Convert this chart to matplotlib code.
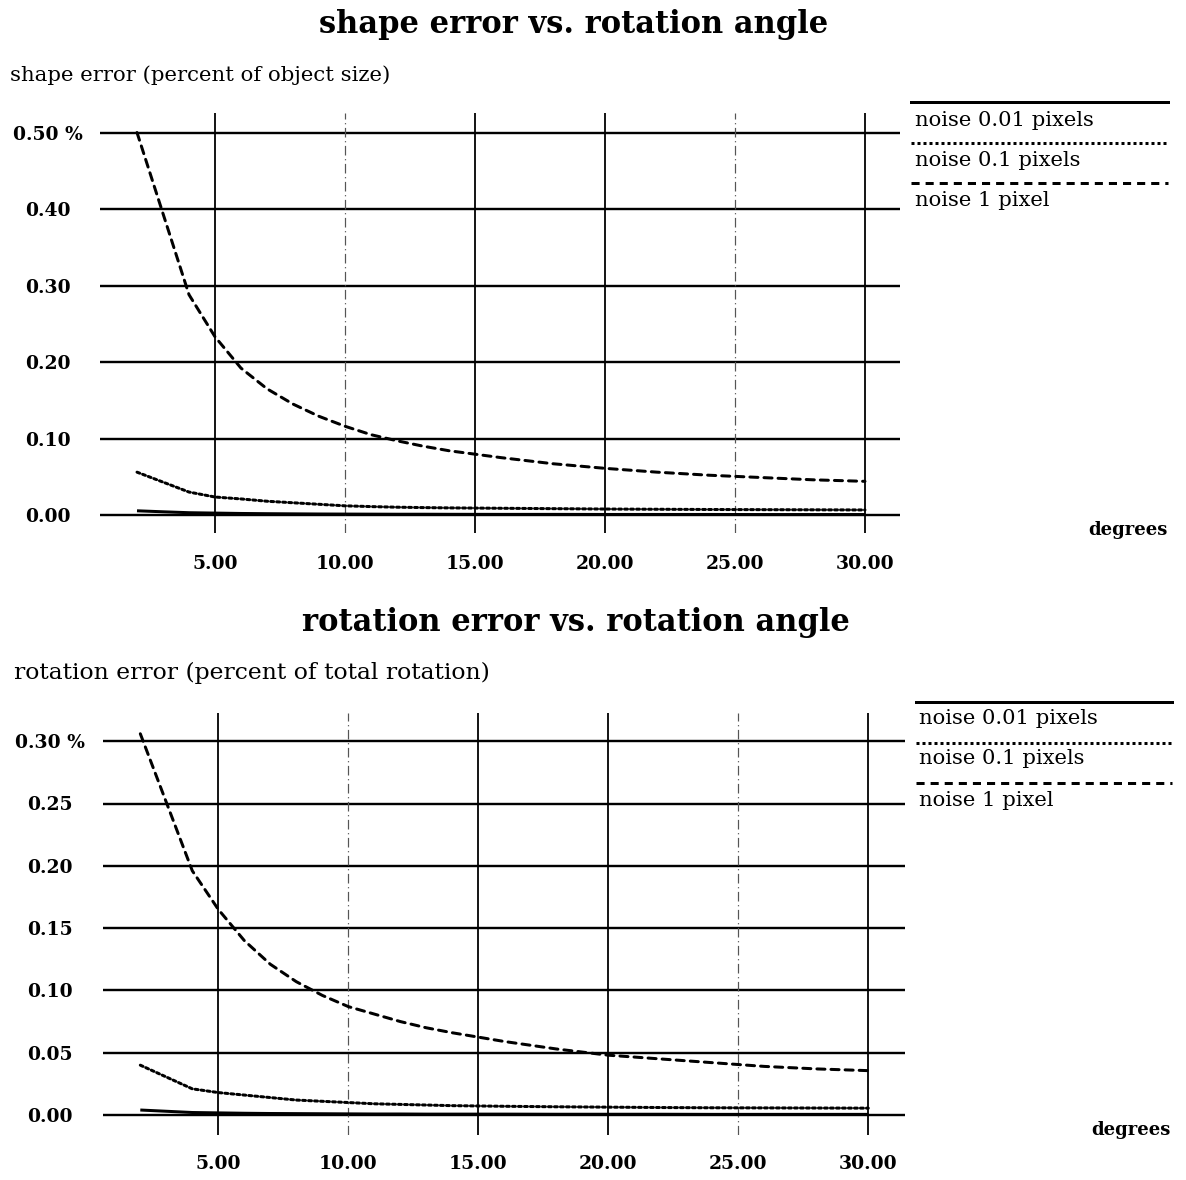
import matplotlib
matplotlib.use("Agg")
import matplotlib.pyplot as plt

plt.rcParams['font.family'] = ['DejaVu Serif']

# rotation angle samples (degrees)
angles = [2, 3, 4, 5, 6, 7, 8, 9, 10, 11, 12, 13, 14, 16, 18, 20, 22, 24, 26, 28, 30]

# shape error (percent of object size)
shape_noise_001 = [0.0055, 0.0042, 0.0030, 0.0025, 0.0020, 0.0017, 0.0015, 0.0013,
                   0.0012, 0.0011, 0.0010, 0.0010, 0.0009, 0.0008, 0.0008, 0.0007,
                   0.0007, 0.0007, 0.0006, 0.0006, 0.0006]
shape_noise_01 = [0.056, 0.043, 0.030, 0.0235, 0.021, 0.018, 0.016, 0.014,
                  0.012, 0.011, 0.0102, 0.0097, 0.0093, 0.0088, 0.0083, 0.0078,
                  0.0075, 0.0072, 0.0070, 0.0068, 0.0066]
shape_noise_1 = [0.500, 0.394, 0.288, 0.233, 0.192, 0.165, 0.145, 0.129,
                 0.116, 0.105, 0.097, 0.090, 0.084, 0.075, 0.067, 0.061,
                 0.056, 0.052, 0.049, 0.046, 0.044]

# rotation error (percent of total rotation)
rot_noise_001 = [0.0040, 0.0030, 0.0020, 0.0017, 0.0014, 0.0012, 0.0011, 0.0010,
                 0.0009, 0.0008, 0.0008, 0.0007, 0.0007, 0.0007, 0.0006, 0.0006,
                 0.0006, 0.0005, 0.0005, 0.0005, 0.0005]
rot_noise_01 = [0.040, 0.0305, 0.021, 0.018, 0.016, 0.014, 0.012, 0.011,
                0.010, 0.009, 0.0085, 0.0080, 0.0075, 0.0070, 0.0066, 0.0063,
                0.0060, 0.0058, 0.0057, 0.0056, 0.0055]
rot_noise_1 = [0.306, 0.251, 0.196, 0.165, 0.140, 0.121, 0.107, 0.096,
               0.087, 0.081, 0.075, 0.070, 0.066, 0.059, 0.053, 0.048,
               0.045, 0.042, 0.039, 0.037, 0.0356]

series_labels = ["noise 0.01 pixels", "noise 0.1 pixels", "noise 1 pixel"]

x_ticks = [5, 10, 15, 20, 25, 30]
x_tick_labels = ["5.00", "10.00", "15.00", "20.00", "25.00", "30.00"]
shape_yticks = [0.0, 0.1, 0.2, 0.3, 0.4, 0.5]
shape_ylabels = ["0.00", "0.10", "0.20", "0.30", "0.40", "0.50 %"]
rot_yticks = [0.0, 0.05, 0.10, 0.15, 0.20, 0.25, 0.30]
rot_ylabels = ["0.00", "0.05", "0.10", "0.15", "0.20", "0.25", "0.30 %"]

W, H = 1186, 1180
fig = plt.figure(figsize=(W / 100, H / 100), dpi=100)
fig.patch.set_facecolor("white")

PX = 72 / 100  # points per pixel

styles = [
    dict(linestyle="-", linewidth=3 * PX),
    dict(linestyle=(0, (1.0, 1.0)), linewidth=3 * PX),
    dict(linestyle=(0, (2.7, 2.0)), linewidth=3 * PX),
]

TICK_FS = 13.5
LEGEND_FS = 15.2
TITLE_FS = 22
DEG_FS = 13


def frac_box(left, top, right, bottom):
    return [left / W, 1 - bottom / H, (right - left) / W, (bottom - top) / H]


def draw_panel(box, xlim, ylim, yticks, ylabels, curves, xlab_pad, ylab_center_px):
    ax = fig.add_axes(box)
    ax.set_xlim(*xlim)
    ax.set_ylim(*ylim)
    for s in ax.spines.values():
        s.set_visible(False)
    # horizontal grid lines
    for v in yticks:
        ax.axhline(v, color="black", lw=2.4 * PX, zorder=1)
    # vertical grid lines
    for t in x_ticks:
        if t in (10, 25):
            ax.axvline(t, color="#555555", lw=1.2 * PX,
                       linestyle=(0, (8, 3, 1, 3)), zorder=1)
        else:
            ax.axvline(t, color="black", lw=1.8 * PX, zorder=1)
    for yv, st in zip(curves, styles):
        ax.plot(angles, yv, color="black", zorder=3, solid_capstyle="butt",
                dash_capstyle="round" if st["linestyle"] != "-" else "butt", **st)
    ax.set_xticks(x_ticks)
    ax.set_xticklabels(x_tick_labels, fontsize=TICK_FS, fontweight="bold")
    ax.set_yticks(yticks)
    ax.set_yticklabels(ylabels, fontsize=TICK_FS, fontweight="bold")
    left_px = box[0] * W
    ax.tick_params(axis="y", length=0, pad=(left_px - ylab_center_px) * PX)
    ax.tick_params(axis="x", length=0, pad=xlab_pad * PX)
    for lab in ax.get_yticklabels():
        lab.set_horizontalalignment("center")
    return ax


def draw_legend(x0, x1, line_ys, text_ys, text_x):
    lg = fig.add_axes([0, 0, 1, 1])
    lg.set_xlim(0, W)
    lg.set_ylim(H, 0)
    lg.axis("off")
    for ly, ty, st, lab in zip(line_ys, text_ys, styles, series_labels):
        lg.plot([x0, x1], [ly, ly], color="black", **st)
        lg.text(text_x, ty, lab, fontsize=LEGEND_FS, va="center", ha="left")


# top panel: shape error
ax1 = draw_panel(frac_box(100, 113, 900, 533),
                 ((100 - 85) / 26, (900 - 85) / 26),
                 (-(533 - 515) / 765, (515 - 113) / 765),
                 shape_yticks, shape_ylabels,
                 [shape_noise_001, shape_noise_01, shape_noise_1],
                 xlab_pad=22, ylab_center_px=48)

# bottom panel: rotation error
ax2 = draw_panel(frac_box(103, 713, 905, 1135),
                 ((103 - 88.3) / 26, (905 - 88.3) / 26),
                 (-(1135 - 1115) / 1246, (1115 - 713) / 1246),
                 rot_yticks, rot_ylabels,
                 [rot_noise_001, rot_noise_01, rot_noise_1],
                 xlab_pad=20, ylab_center_px=50)

draw_legend(911, 1168, [102, 143, 183], [120, 160, 201], 915)
draw_legend(916, 1172, [702, 743, 783], [719, 759, 800], 919)

fig.text(574 / W, 1 - 25 / H, "shape error vs. rotation angle",
         fontsize=TITLE_FS, fontweight="bold", ha="center", va="center")
fig.text(576 / W, 1 - 623 / H, "rotation error vs. rotation angle",
         fontsize=TITLE_FS, fontweight="bold", ha="center", va="center")
fig.text(10 / W, 1 - 75 / H, "shape error (percent of object size)",
         fontsize=15.3, ha="left", va="center")
fig.text(14 / W, 1 - 673 / H, "rotation error (percent of total rotation)",
         fontsize=16.9, ha="left", va="center")
fig.text(1128 / W, 1 - 530 / H, "degrees", fontsize=DEG_FS, fontweight="bold",
         ha="center", va="center")
fig.text(1131 / W, 1 - 1130 / H, "degrees", fontsize=DEG_FS, fontweight="bold",
         ha="center", va="center")

fig.savefig("out.png", dpi=100, facecolor="white")
